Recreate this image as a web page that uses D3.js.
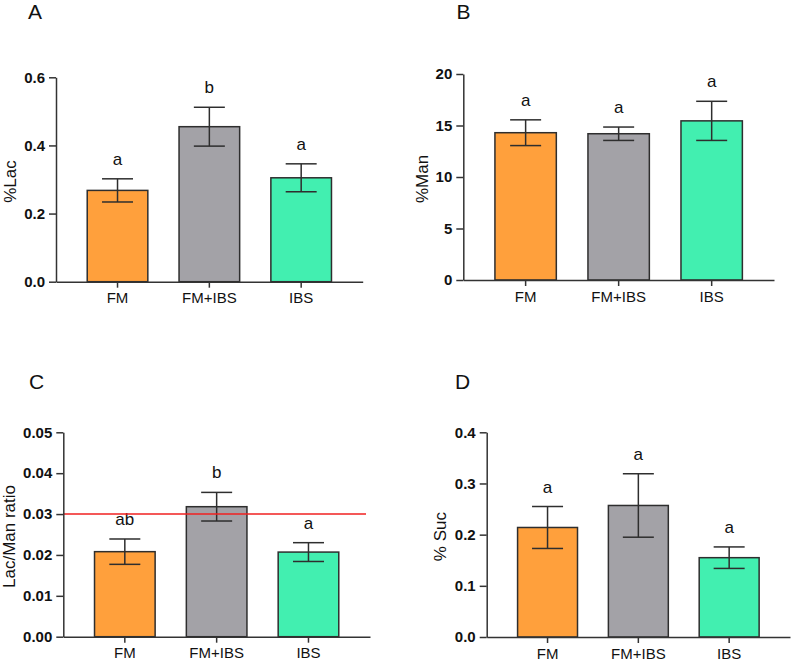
<!DOCTYPE html>
<html>
<head>
<meta charset="utf-8">
<script src="https://cdn.jsdelivr.net/npm/d3@7"></script>
<style>
  body { margin: 0; background: #fff; }
  text { font-family: "Liberation Sans", Arial, sans-serif; fill: #111; }
</style>
</head>
<body>
<svg id="chart" width="796" height="663"></svg>
<script>
// groups and colours
var groups = ["FM", "FM+IBS", "IBS"];
var barColors = ["#FFA03C", "#A3A2A7", "#42EFB0"];

// A: %Lac
var lacMean = [0.268, 0.455, 0.305];
var lacErr = [0.034, 0.057, 0.041];
var lacLetters = ["a", "b", "a"];
var lacTicks = [0, 0.2, 0.4, 0.6];

// B: %Man
var manMean = [14.3, 14.2, 15.45];
var manErr = [1.25, 0.65, 1.9];
var manLetters = ["a", "a", "a"];
var manTicks = [0, 5, 10, 15, 20];

// C: Lac/Man ratio
var ratioMean = [0.0208, 0.0318, 0.0207];
var ratioErr = [0.0031, 0.0035, 0.0023];
var ratioLetters = ["ab", "b", "a"];
var ratioTicks = [0, 0.01, 0.02, 0.03, 0.04, 0.05];
var ratioCutoff = 0.03;

// D: % Suc
var sucMean = [0.214, 0.257, 0.155];
var sucErr = [0.041, 0.062, 0.021];
var sucLetters = ["a", "a", "a"];
var sucTicks = [0, 0.1, 0.2, 0.3, 0.4];

var panels = [
  {tag: "A", label: "%Lac", mean: lacMean, err: lacErr, letters: lacLetters, ticks: lacTicks, fmt: ".1f",
   x0: 56, x1: 362.7, yTop: 77.3, yBot: 281.7, tagX: 28, tagY: 18.5, labX: 16},
  {tag: "B", label: "%Man", mean: manMean, err: manErr, letters: manLetters, ticks: manTicks, fmt: "d",
   x0: 463.3, x1: 774, yTop: 74, yBot: 280, tagX: 456.5, tagY: 18.5, labX: 427.5},
  {tag: "C", label: "Lac/Man ratio", mean: ratioMean, err: ratioErr, letters: ratioLetters, ticks: ratioTicks, fmt: ".2f",
   x0: 63.3, x1: 370, yTop: 432.3, yBot: 636.7, tagX: 29, tagY: 389, labX: 15, cutoff: ratioCutoff},
  {tag: "D", label: "% Suc", mean: sucMean, err: sucErr, letters: sucLetters, ticks: sucTicks, fmt: ".1f",
   x0: 486.7, x1: 790, yTop: 432.3, yBot: 637, tagX: 455, tagY: 389, labX: 446}
];

var svg = d3.select("#chart");

panels.forEach(function(p) {
  var g = svg.append("g");
  var ticks = p.ticks;

  var x = d3.scaleBand()
    .domain(groups)
    .range([p.x0, p.x1])
    .paddingInner(0.34)
    .paddingOuter(0.34);

  var y = d3.scaleLinear()
    .domain([0, ticks[ticks.length - 1]])
    .range([p.yBot, p.yTop]);

  var rows = groups.map(function(gname, i) {
    return {name: gname, mean: p.mean[i], err: p.err[i], letter: p.letters[i], color: barColors[i]};
  });

  // bars
  g.selectAll("rect.bar")
    .data(rows)
    .enter()
    .append("rect")
    .attr("class", "bar")
    .attr("x", function(d) { return x(d.name); })
    .attr("width", x.bandwidth())
    .attr("y", function(d) { return y(d.mean); })
    .attr("height", function(d) { return p.yBot - y(d.mean); })
    .style("fill", function(d) { return d.color; })
    .style("stroke", "#2e2e2e")
    .style("stroke-width", 1.5);

  // error bars
  var capW = 31;
  var eb = g.selectAll("g.err")
    .data(rows)
    .enter()
    .append("g")
    .attr("class", "err")
    .style("stroke", "#2e2e2e")
    .style("stroke-width", 1.5);

  eb.append("line")
    .attr("x1", function(d) { return x(d.name) + x.bandwidth() / 2; })
    .attr("x2", function(d) { return x(d.name) + x.bandwidth() / 2; })
    .attr("y1", function(d) { return y(d.mean - d.err); })
    .attr("y2", function(d) { return y(d.mean + d.err); });

  [1, -1].forEach(function(sign) {
    eb.append("line")
      .attr("x1", function(d) { return x(d.name) + x.bandwidth() / 2 - capW / 2; })
      .attr("x2", function(d) { return x(d.name) + x.bandwidth() / 2 + capW / 2; })
      .attr("y1", function(d) { return y(d.mean + sign * d.err); })
      .attr("y2", function(d) { return y(d.mean + sign * d.err); });
  });

  // significance letters
  g.selectAll("text.letter")
    .data(rows)
    .enter()
    .append("text")
    .attr("class", "letter")
    .attr("x", function(d) { return x(d.name) + x.bandwidth() / 2; })
    .attr("y", function(d) { return y(d.mean + d.err) - 14; })
    .attr("text-anchor", "middle")
    .style("font-size", "17px")
    .text(function(d) { return d.letter; });

  // reference line
  if (p.cutoff !== undefined) {
    g.append("line")
      .attr("x1", p.x0)
      .attr("x2", p.x1 - 4)
      .attr("y1", y(p.cutoff))
      .attr("y2", y(p.cutoff))
      .style("stroke", "#F02020")
      .style("stroke-width", 1.5);
  }

  // y axis
  var yAxis = g.append("g")
    .attr("transform", "translate(" + p.x0 + ",0)")
    .call(d3.axisLeft(y)
      .tickValues(ticks)
      .tickFormat(d3.format(p.fmt))
      .tickSize(7)
      .tickSizeOuter(0)
      .tickPadding(4));
  yAxis.selectAll("text")
    .style("font-size", "15px")
    .style("font-weight", "bold")
    .style("font-family", "'Liberation Sans', Arial, sans-serif")
    .style("fill", "#111");

  // x axis
  var xAxis = g.append("g")
    .attr("transform", "translate(0," + p.yBot + ")")
    .call(d3.axisBottom(x).tickSize(6).tickSizeOuter(0).tickPadding(5));
  xAxis.selectAll("text")
    .style("font-size", "15px")
    .style("font-family", "'Liberation Sans', Arial, sans-serif")
    .style("fill", "#111");

  g.selectAll(".domain, .tick line")
    .style("stroke", "#333")
    .style("stroke-width", 1.5);

  // axis title
  var midY = (p.yTop + p.yBot) / 2;
  g.append("text")
    .attr("transform", "translate(" + p.labX + "," + (midY + 2) + ") rotate(-90)")
    .attr("text-anchor", "middle")
    .style("font-size", "17px")
    .text(p.label);

  // panel tag
  g.append("text")
    .attr("x", p.tagX)
    .attr("y", p.tagY)
    .style("font-size", "21px")
    .text(p.tag);
});
</script>
</body>
</html>
